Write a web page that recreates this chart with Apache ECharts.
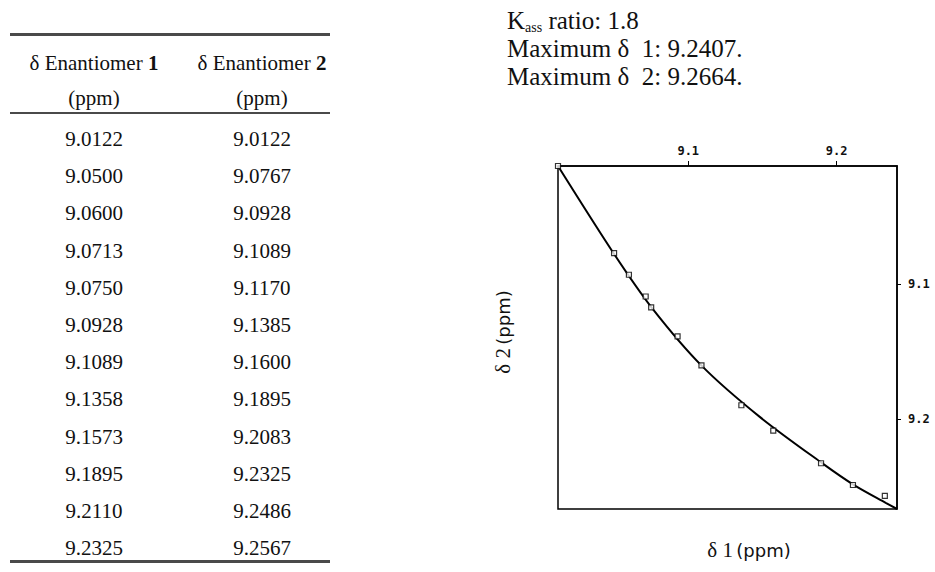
<!DOCTYPE html>
<html>
<head>
<meta charset="utf-8">
<script src="https://cdn.jsdelivr.net/npm/echarts@6/dist/echarts.min.js"></script>
<style>
  html, body { margin: 0; padding: 0; background: #fff; }
  #wrap { position: relative; width: 935px; height: 572px; overflow: hidden; }
  #chart { position: absolute; left: 0; top: 0; width: 935px; height: 572px; }
  .ov { position: absolute; z-index: 2; font-family: "Liberation Serif", serif; color: #111; white-space: nowrap; font-size: 25px; height: 28px; line-height: 28px; }
  .rule { position: absolute; z-index: 2; left: 10px; width: 320px; background: #4a4a4a; }
  .cell { position: absolute; z-index: 2; width: 168px; text-align: center; font-family: "Liberation Serif", serif; font-size: 21px; color: #111; white-space: nowrap; }
  .sub { font-size: 14px; position: relative; top: 3px; line-height: 14px; }
</style>
</head>
<body>
<div id="wrap">
  <div id="chart"></div>
  <div class="ov" style="left:507px;top:7px">K<span class="sub">ass</span> ratio: 1.8</div>
  <div class="ov" style="left:507px;top:35px">Maximum &delta;&nbsp; 1: 9.2407.</div>
  <div class="ov" style="left:507px;top:63px">Maximum &delta;&nbsp; 2: 9.2664.</div>
</div>
<script>
// observed shifts (table + plotted squares)
var delta1 = [9.0122, 9.0500, 9.0600, 9.0713, 9.0750, 9.0928, 9.1089, 9.1358, 9.1573, 9.1895, 9.2110, 9.2325];
var delta2 = [9.0122, 9.0767, 9.0928, 9.1089, 9.1170, 9.1385, 9.1600, 9.1895, 9.2083, 9.2325, 9.2486, 9.2567];
var delta1Text = ['9.0122', '9.0500', '9.0600', '9.0713', '9.0750', '9.0928', '9.1089', '9.1358', '9.1573', '9.1895', '9.2110', '9.2325'];
var delta2Text = ['9.0122', '9.0767', '9.0928', '9.1089', '9.1170', '9.1385', '9.1600', '9.1895', '9.2083', '9.2325', '9.2486', '9.2567'];

// fitted curve
var fitD1 = [9.0122, 9.0500, 9.0756, 9.1093, 9.1484, 9.1902, 9.2118, 9.2334, 9.2407];
var fitD2 = [9.0122, 9.0774, 9.1175, 9.1605, 9.1983, 9.2324, 9.2487, 9.2620, 9.2664];

var tickValues = [9.1, 9.2];
var min1 = 9.0122, max1 = 9.2407;
var min2 = 9.0122, max2 = 9.2664;

// table (html)
var wrap = document.getElementById('wrap');
function addRule(top, h) {
  var d = document.createElement('div');
  d.className = 'rule';
  d.style.top = top + 'px';
  d.style.height = h + 'px';
  wrap.appendChild(d);
}
function addCell(html, left, cy) {
  var d = document.createElement('div');
  d.className = 'cell';
  d.style.left = left + 'px';
  d.style.top = (cy - 15) + 'px';
  d.style.height = '30px';
  d.style.lineHeight = '30px';
  d.innerHTML = html;
  wrap.appendChild(d);
}
addRule(33, 3);
addRule(112, 2);
addRule(560, 3);
addCell('&delta; Enantiomer <b>1</b>', 10, 63);
addCell('&delta; Enantiomer <b>2</b>', 178, 63);
addCell('(ppm)', 10, 98);
addCell('(ppm)', 178, 98);
for (var i = 0; i < delta1Text.length; i++) {
  var cy = 139 + i * 37.2;
  addCell(delta1Text[i], 10, cy);
  addCell(delta2Text[i], 178, cy);
}

var points = delta1.map(function (v, i) { return [v, delta2[i]]; });
var fitLine = fitD1.map(function (v, i) { return [v, fitD2[i]]; });

var labelStyle = {
  customValues: tickValues,
  formatter: function (v) { return v.toFixed(1); },
  fontFamily: 'DejaVu Sans Mono',
  fontSize: 12,
  fontWeight: 'bold',
  color: '#111'
};

var option = {
  backgroundColor: '#fff',
  animation: false,
  grid: {
    left: 558, top: 166, right: 38, bottom: 63,
    containLabel: false,
    outerBoundsMode: 'none',
    show: true,
    borderColor: '#000',
    borderWidth: 1.5
  },
  xAxis: {
    type: 'value',
    position: 'top',
    min: min1, max: max1,
    splitLine: { show: false },
    axisLine: { show: true, lineStyle: { color: '#000', width: 1.5 } },
    axisTick: { show: true, customValues: tickValues, length: 5, lineStyle: { color: '#000', width: 1 } },
    axisLabel: Object.assign({ margin: 9 }, labelStyle)
  },
  yAxis: {
    type: 'value',
    position: 'right',
    inverse: true,
    min: min2, max: max2,
    splitLine: { show: false },
    axisLine: { show: true, lineStyle: { color: '#000', width: 1.5 } },
    axisTick: { show: true, customValues: tickValues, length: 4, lineStyle: { color: '#000', width: 1 } },
    axisLabel: Object.assign({ margin: 11 }, labelStyle)
  },
  series: [
    {
      type: 'line',
      data: fitLine,
      smooth: 0.3,
      showSymbol: false,
      lineStyle: { color: '#000', width: 2 },
      z: 2
    },
    {
      type: 'scatter',
      data: points,
      symbol: 'rect',
      symbolSize: 5,
      itemStyle: { color: '#fff', borderColor: '#000', borderWidth: 1.2 },
      z: 3
    }
  ],
  graphic: [
    {
      type: 'text',
      x: 749, y: 550,
      style: {
        text: '{s|\u03b4 1} {p|(ppm)}',
        align: 'center', verticalAlign: 'middle',
        rich: {
          s: { fontFamily: 'Liberation Serif', fontSize: 21, fill: '#111' },
          p: { fontFamily: 'DejaVu Sans', fontSize: 18, fill: '#111' }
        }
      }
    },
    {
      type: 'text',
      x: 503, y: 332,
      rotation: Math.PI / 2,
      style: {
        text: '{s|\u03b4 2} {p|(ppm)}',
        align: 'center', verticalAlign: 'middle',
        rich: {
          s: { fontFamily: 'Liberation Serif', fontSize: 21, fill: '#111' },
          p: { fontFamily: 'DejaVu Sans', fontSize: 18, fill: '#111' }
        }
      }
    }
  ]
};

var myChart = echarts.init(document.getElementById('chart'), null, { renderer: 'svg' });
myChart.setOption(option);
</script>
</body>
</html>
